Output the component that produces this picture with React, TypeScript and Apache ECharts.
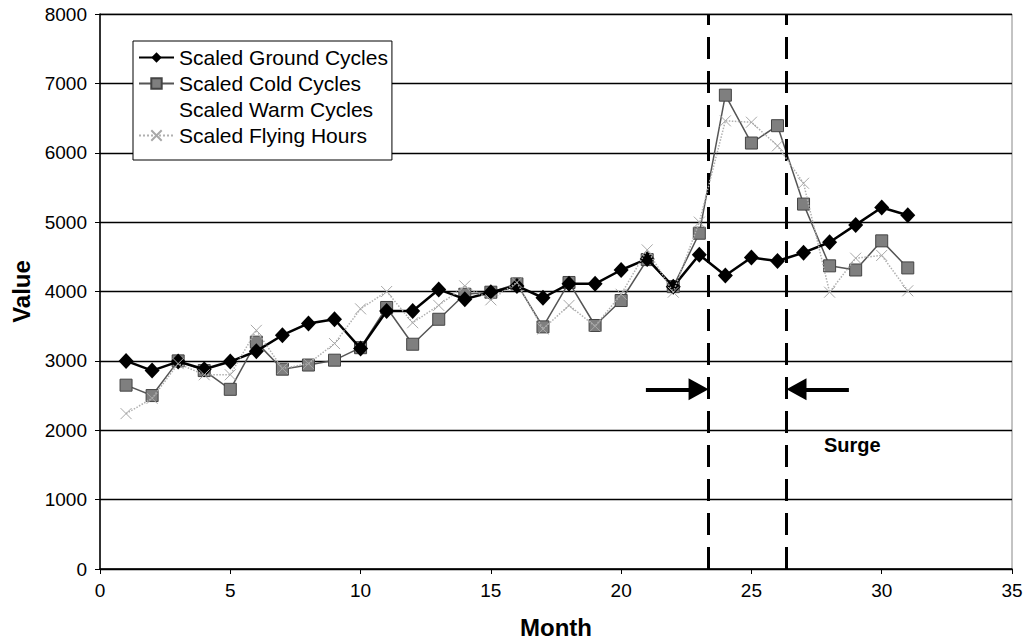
import React, { useEffect, useRef } from "react";
import * as echarts from "echarts";

const months = [1,2,3,4,5,6,7,8,9,10,11,12,13,14,15,16,17,18,19,20,21,22,23,24,25,26,27,28,29,30,31];
const groundCycles = [3000, 2860, 2990, 2880, 2990, 3140, 3370, 3540, 3600, 3180, 3720, 3720, 4030, 3890, 3990, 4080, 3910, 4110, 4110, 4310, 4470, 4070, 4530, 4230, 4490, 4440, 4560, 4710, 4960, 5210, 5100];
const coldCycles = [2650, 2500, 3000, 2860, 2590, 3270, 2880, 2940, 3010, 3190, 3770, 3240, 3600, 3960, 3990, 4110, 3490, 4130, 3510, 3870, 4460, 4070, 4840, 6830, 6140, 6390, 5260, 4370, 4310, 4730, 4340];
const warmCycles: number[] = [];
const flyingHours = [2240, 2460, 2960, 2800, 2800, 3440, 2890, 2960, 3250, 3750, 4000, 3550, 3800, 4080, 3880, 4130, 3460, 3800, 3500, 3960, 4600, 3990, 5000, 6460, 6440, 6100, 5560, 3990, 4480, 4520, 4010];

const surgeStart = 23.35;
const surgeEnd = 26.35;
const arrowLevel = 2590;
const leftArrowFrom = 20.95;
const leftArrowTo = 22.97;
const rightArrowFrom = 28.74;
const rightArrowTo = 26.73;

const FONT = "'Liberation Sans', Arial, sans-serif";

function pair(xs: number[], ys: number[]) {
  return ys.map((y, i) => [xs[i], y]);
}

export default function App() {
  const ref = useRef<HTMLDivElement>(null);
  useEffect(() => {
    if (!ref.current) return;
    const chart = echarts.init(ref.current, undefined, { renderer: "svg" });
    chart.setOption({
      animation: false,
      backgroundColor: "#fff",
      textStyle: { fontFamily: FONT, color: "#000" },
      grid: {
        left: 100, right: 21, top: 14, bottom: 70,
        show: true, borderColor: "#888", borderWidth: 1, backgroundColor: "transparent",
      },
      legend: {
        orient: "vertical",
        left: 133, top: 41,
        padding: [6, 4, 14, 5],
        itemGap: 5,
        itemWidth: 35,
        itemHeight: 13,
        backgroundColor: "#fff",
        borderColor: "#000",
        borderWidth: 1,
        borderRadius: 0,
        textStyle: { fontFamily: FONT, fontSize: 21, color: "#000" },
        data: ["Scaled Ground Cycles", "Scaled Cold Cycles", "Scaled Warm Cycles", "Scaled Flying Hours"],
      },
      xAxis: {
        type: "value", min: 0, max: 35, interval: 5,
        name: "Month", nameLocation: "middle", nameGap: 46,
        nameTextStyle: { fontFamily: FONT, fontSize: 24, fontWeight: "bold", color: "#000" },
        axisLine: { show: true, onZero: false, lineStyle: { color: "#000", width: 1.5 } },
        axisTick: { show: true, inside: false, length: 5, lineStyle: { color: "#000" } },
        axisLabel: { fontFamily: FONT, fontSize: 19, color: "#000", margin: 12, formatter: (v: number) => String(v) },
        splitLine: { show: false },
      },
      yAxis: {
        type: "value", min: 0, max: 8000, interval: 1000,
        name: "Value", nameLocation: "middle", nameGap: 62, nameRotate: 90,
        nameTextStyle: { fontFamily: FONT, fontSize: 24, fontWeight: "bold", color: "#000" },
        axisLine: { show: true, lineStyle: { color: "#000", width: 1.5 } },
        axisTick: { show: true, inside: false, length: 5, lineStyle: { color: "#000" } },
        axisLabel: { fontFamily: FONT, fontSize: 19, color: "#000", margin: 13, formatter: (v: number) => String(v) },
        splitLine: { show: true, lineStyle: { color: "#000", width: 1.3 } },
      },
      series: [
        {
          name: "Scaled Ground Cycles",
          type: "line",
          data: pair(months, groundCycles),
          symbol: "diamond",
          symbolSize: [15, 16],
          lineStyle: { color: "#000", width: 2.5 },
          itemStyle: { color: "#000" },
          z: 4,
        },
        {
          name: "Scaled Cold Cycles",
          type: "line",
          data: pair(months, coldCycles),
          symbol: "rect",
          symbolSize: 12,
          lineStyle: { color: "#555", width: 1.5 },
          itemStyle: { color: "#7f7f7f", borderColor: "#444", borderWidth: 1 },
          z: 3,
        },
        {
          name: "Scaled Warm Cycles",
          type: "line",
          data: pair(months, warmCycles),
          symbol: "none",
          lineStyle: { color: "rgba(0,0,0,0)", width: 0 },
          itemStyle: { color: "rgba(0,0,0,0)" },
        },
        {
          name: "Scaled Flying Hours",
          type: "line",
          data: pair(months, flyingHours),
          symbol: "path://M0,0L10,10M10,0L0,10",
          symbolSize: 11,
          lineStyle: { color: "#b0b0b0", width: 1.5, type: "dotted" },
          itemStyle: { color: "rgba(0,0,0,0)", borderColor: "#a8a8a8", borderWidth: 1 },
          z: 5,
          markLine: {
            silent: true,
            symbol: ["none", "none"],
            label: { show: false },
            lineStyle: { color: "#000", width: 3, type: [22, 12] },
            data: [
              { xAxis: surgeStart },
              { xAxis: surgeEnd },
            ],
          },
        },
        {
          name: "annotations",
          type: "line",
          data: [],
          markLine: {
            silent: true,
            symbol: ["none", "triangle"],
            symbolSize: [22, 20],
            label: { show: false },
            lineStyle: { color: "#000", width: 4, type: "solid" },
            itemStyle: { color: "#000" },
            data: [
              [{ coord: [leftArrowFrom, arrowLevel] }, { coord: [leftArrowTo, arrowLevel] }],
              [{ coord: [rightArrowFrom, arrowLevel] }, { coord: [rightArrowTo, arrowLevel] }],
            ],
          },
        },
      ],
      graphic: [
        {
          type: "text",
          left: 824,
          top: 435,
          style: { text: "Surge", fontFamily: FONT, fontSize: 20, fontWeight: "bold", fill: "#000" },
        },
      ],
    });
    return () => chart.dispose();
  }, []);
  return <div ref={ref} style={{ width: 1033, height: 644, position: "absolute", left: 0, top: 0 }} />;
}
